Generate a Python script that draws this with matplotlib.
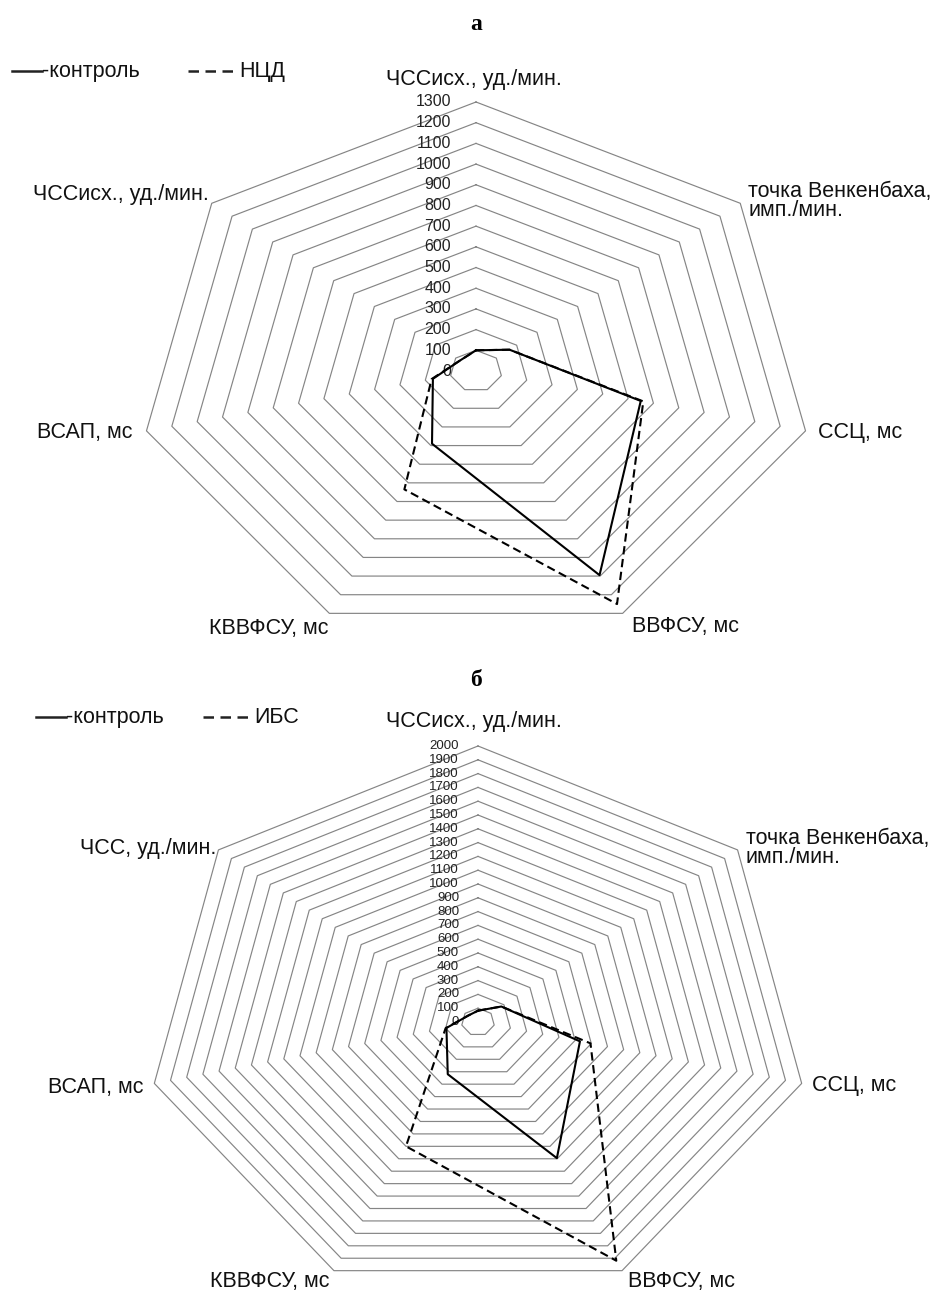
import numpy as np
import matplotlib
matplotlib.use("Agg")
import matplotlib.pyplot as plt
from matplotlib.lines import Line2D

plt.rcParams['font.family'] = ['Liberation Sans', 'DejaVu Sans']

# ---------------- data ----------------
categories_a = ["ЧССисх., уд./мин.", "точка Венкенбаха,\nимп./мин.", "ССЦ, мс",
                "ВВФСУ, мс", "КВВФСУ, мс", "ВСАП, мс", "ЧССисх., уд./мин."]
control_a = [100, 165, 650, 1095, 390, 170, 80]
ncd_a = [100, 165, 660, 1250, 635, 175, 80]
ticks_a = list(range(0, 1301, 100))

categories_b = ["ЧССисх., уд./мин.", "точка Венкенбаха,\nимп./мин.", "ССЦ, мс",
                "ВВФСУ, мс", "КВВФСУ, мс", "ВСАП, мс", "ЧСС, уд./мин."]
control_b = [82, 180, 630, 1095, 420, 195, 75]
ibs_b = [82, 180, 695, 1920, 1000, 200, 75]
ticks_b = list(range(0, 2001, 100))

W, H = 946, 1290
fig = plt.figure(figsize=(W / 100, H / 100), dpi=100)

CAT_FS = 15.5
DASH = (0, (4.0, 2.2))


def make_axes(top_px, bot_px, cx, cy, rx, ry, vmax):
    ax = fig.add_axes([0, 1 - bot_px / H, 1, (bot_px - top_px) / H])
    ax.set_xlim((0 - cx) / rx * vmax, (W - cx) / rx * vmax)
    ax.set_ylim((cy - bot_px) / ry * vmax, (cy - top_px) / ry * vmax)
    ax.set_axis_off()
    return ax


def draw_radar(ax, cats, ser1, ser2, ticks, label_offsets, tick_dx, tick_fs):
    n = len(cats)
    theta = np.pi / 2 - 2 * np.pi * np.arange(n) / n
    tc = np.append(theta, theta[0])
    for r in ticks[1:]:
        ax.plot(r * np.cos(tc), r * np.sin(tc), color='#858585', lw=0.85, zorder=1)
    v2 = np.append(np.array(ser2, float), ser2[0])
    ax.plot(v2 * np.cos(tc), v2 * np.sin(tc), color='black', lw=1.5,
            linestyle=DASH, zorder=3)
    v1 = np.append(np.array(ser1, float), ser1[0])
    ax.plot(v1 * np.cos(tc), v1 * np.sin(tc), color='black', lw=1.5, zorder=4)
    for t in ticks:
        ax.annotate(str(t), xy=(0, t), xytext=(tick_dx, 0), textcoords='offset pixels',
                    ha='right', va='center', fontsize=tick_fs, color='#222222', zorder=2)
    rmax = ticks[-1]
    for k, c in enumerate(cats):
        dx, dy, ha = label_offsets[k]
        ax.annotate(c, xy=(rmax * np.cos(theta[k]), rmax * np.sin(theta[k])),
                    xytext=(dx, dy), textcoords='offset pixels', ha=ha, va='center',
                    fontsize=CAT_FS, color='#111111', linespacing=0.9)


def legend(y_px, x_solid, x_dash, name):
    yf = 1 - y_px / H
    fig.add_artist(Line2D([x_solid / W, (x_solid + 30) / W], [yf, yf], color='#222222',
                          lw=1.8, transform=fig.transFigure))
    fig.text((x_solid + 30) / W, yf, "-контроль", ha='left', va='center',
             fontsize=CAT_FS, color='#111111')
    fig.add_artist(Line2D([x_dash / W, (x_dash + 47) / W], [yf, yf], color='#222222',
                          lw=1.8, linestyle=(0, (4.2, 2.6)), transform=fig.transFigure))
    fig.text((x_dash + 51) / W, yf, name, ha='left', va='center',
             fontsize=CAT_FS, color='#111111')


# chart a
ax_a = make_axes(0, 650, 476, 371, 338, 269, 1300)
offs_a = [(-2, 22, 'center'), (8, 2, 'left'), (12, -2, 'left'), (9, -13, 'left'),
          (-1, -15, 'right'), (-14, -2, 'right'), (-3, 9, 'right')]
draw_radar(ax_a, categories_a, control_a, ncd_a, ticks_a, offs_a, -25, 11.5)

# chart b
ax_b = make_axes(650, 1290, 478, 1022, 332, 276, 2000)
offs_b = [(-4, 24, 'center'), (8, 2, 'left'), (10, -2, 'left'), (6, -11, 'left'),
          (-4, -11, 'right'), (-11, -4, 'right'), (-2, 1, 'right')]
draw_radar(ax_b, categories_b, control_b, ibs_b, ticks_b, offs_b, -19, 9.5)

# titles
fig.text(476 / W, 1 - 25 / H, "а", ha='center', va='center', fontsize=17,
         fontweight='bold', family='Liberation Serif')
fig.text(476 / W, 1 - 680 / H, "б", ha='center', va='center', fontsize=17,
         fontweight='bold', family='Liberation Serif')

# legends
legend(71, 12, 188, "НЦД")
legend(717, 36, 203, "ИБС")

fig.savefig("out.png", dpi=100, facecolor='white')
